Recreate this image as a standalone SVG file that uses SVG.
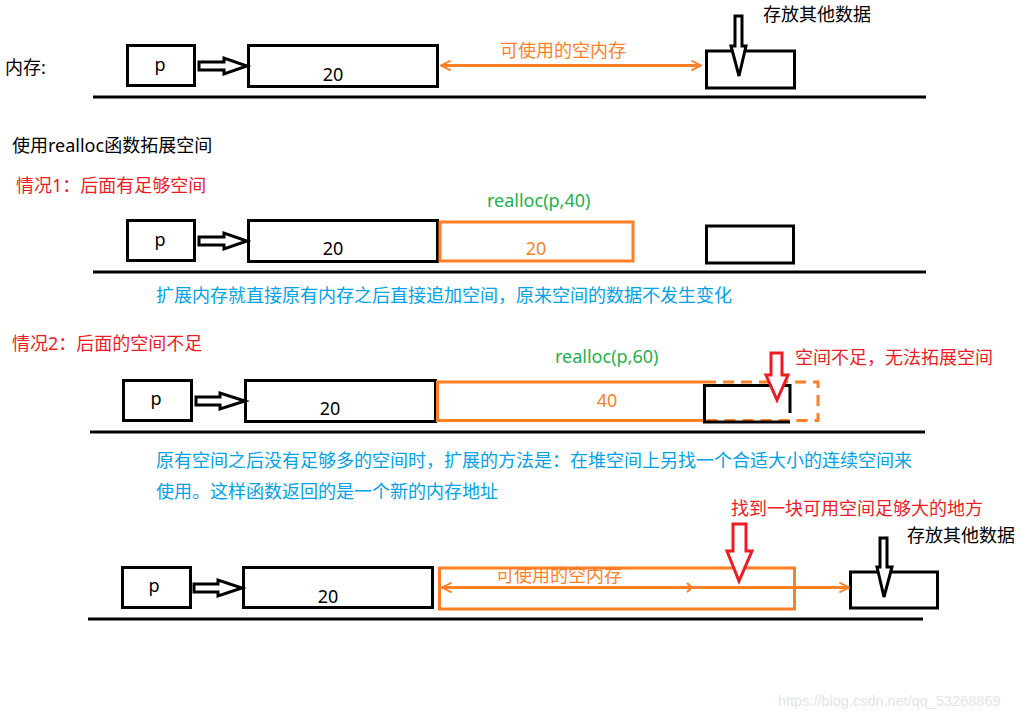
<svg xmlns="http://www.w3.org/2000/svg" width="1030" height="719" viewBox="0 0 1030 719">
<style>
text{font-family:"Noto Sans","Noto Sans CJK SC",sans-serif;font-size:18px}
.k{fill:#000}.o{fill:#ff7f27}.r{fill:#ed1c24}.g{fill:#22b14c}.b{fill:#00a2e8}
.box{fill:none;stroke:#000;stroke-width:3}
.obox{fill:none;stroke:#ff7f27;stroke-width:3}
.harrow{fill:#fff;stroke:#000;stroke-width:3;stroke-linejoin:miter}
.rarrow{fill:#fff;stroke:#ed1c24;stroke-width:3}
.base{stroke:#000;stroke-width:3}
.oline{stroke:#ff7f27;stroke-width:3;fill:none}
.c{text-anchor:middle}
</style>
<defs>
<marker id="oh" viewBox="0 0 10 10" refX="9" refY="5" markerWidth="4" markerHeight="4" orient="auto-start-reverse" markerUnits="strokeWidth">
<path d="M1,1 L9,5 L1,9" fill="none" stroke="#ff7f27" stroke-width="1.6"/>
</marker>
</defs>

<g id="labels">
<text x="5" y="74" class="k">内存:</text>
<text x="12" y="152" class="k">使用realloc函数拓展空间</text>
<text x="16" y="192" class="r">情况1：后面有足够空间</text>
<text x="156" y="302" class="b">扩展内存就直接原有内存之后直接追加空间，原来空间的数据不发生变化</text>
<text x="12" y="350" class="r">情况2：后面的空间不足</text>
<text x="156" y="467" class="b">原有空间之后没有足够多的空间时，扩展的方法是：在堆空间上另找一个合适大小的连续空间来</text>
<text x="156" y="498" class="b">使用。这样函数返回的是一个新的内存地址</text>
<text x="778" y="706" style="font-family:'Liberation Sans',sans-serif;font-size:14.5px;fill:#e4e4e4">https://blog.csdn.net/qq_53268869</text>
</g>

<g id="row1">
<line class="base" x1="93" y1="97" x2="926" y2="97"/>
<g id="p1"><rect class="box" x="127.5" y="45.5" width="67" height="40"/><text x="160" y="71" class="k c">p</text></g>
<g id="m1"><rect class="box" x="248.5" y="45.5" width="189" height="41"/><text x="333" y="81" class="k c">20</text></g>
<g id="other1"><rect class="box" x="706.5" y="51" width="88" height="37"/></g>
<g id="free1"><text x="500" y="57" class="o">可使用的空内存</text></g>
<g id="other1-label"><text x="763" y="21" class="k">存放其他数据</text></g>
</g>

<g id="row2">
<line class="base" x1="93" y1="272" x2="926" y2="272"/>
<g id="p2"><rect class="box" x="127.5" y="220.5" width="67" height="40"/><text x="160" y="246" class="k c">p</text></g>
<g id="m2"><rect class="box" x="248.5" y="220.5" width="189" height="41"/><text x="333" y="255" class="k c">20</text></g>
<g id="ext2"><rect class="obox" x="440" y="222" width="193" height="39"/><text x="536" y="255" class="o c">20</text></g>
<g id="other2"><rect class="box" x="706.5" y="226" width="87" height="37"/></g>
<text x="487" y="207" class="g">realloc(p,40)</text>
</g>

<g id="row3">
<line class="base" x1="90" y1="432" x2="925" y2="432"/>
<g id="p3"><rect class="box" x="123.5" y="380.5" width="68" height="40"/><text x="156" y="405" class="k c">p</text></g>
<g id="m3"><rect class="box" x="245.5" y="380.5" width="190" height="41"/><text x="330" y="415" class="k c">20</text></g>
<g id="ext3">
<path class="oline" d="M705,382 H437.5 V420.5 H705"/>
<path class="oline" d="M705,382 H818 V420.5 H705" stroke-dasharray="11 7"/>
<text x="607" y="407" class="o c">40</text>
</g>
<g id="other3"><path class="box" d="M790,413 V385.5 H704.5 V422 H790"/></g>
<g id="fail3">
<polygon class="rarrow" points="771,353 782,353 782,375 788,375 777,400 766,375 771,375"/>
<text x="795" y="364" class="r">空间不足，无法拓展空间</text>
</g>
<text x="555" y="363" class="g">realloc(p,60)</text>
</g>

<g id="row4">
<line class="base" x1="88" y1="619" x2="923" y2="619"/>
<g id="p4"><rect class="box" x="122.5" y="567.5" width="68" height="40"/><text x="154" y="592" class="k c">p</text></g>
<g id="m4"><rect class="box" x="243.5" y="567.5" width="189" height="40"/><text x="328" y="603" class="k c">20</text></g>
<g id="newblock4"><rect class="obox" x="439.5" y="568" width="355" height="41"/></g>
<g id="other4"><rect class="box" x="850.5" y="572" width="87" height="36"/></g>
<g id="found4">
<text x="731" y="515" class="r">找到一块可用空间足够大的地方</text>
<polygon class="rarrow" points="733,524 746,524 746,551 752,551 739,581 727,551 733,551"/>
</g>
<g id="other4-label"><text x="907" y="542" class="k">存放其他数据</text></g>
<text x="496" y="582" class="o">可使用的空内存</text>
</g>

<g id="connectors">
<polygon class="harrow" points="199,62 224,62 224,58 247,66 224,74 224,70 199,70"/>
<polygon class="harrow" points="199,237 224,237 224,233 247,241 224,249 224,245 199,245"/>
<polygon class="harrow" points="196,397 220,397 220,393 245,401 220,409 220,405 196,405"/>
<polygon class="harrow" points="194,584 218,584 218,580 242,588 218,596 218,592 194,592"/>
<polygon class="harrow" points="735,16 742,16 742,46 746,46 739,76 731,46 735,46"/>
<polygon class="harrow" points="880,538 887,538 887,567 892,567 884,597 877,567 880,567"/>
<line class="oline" x1="441" y1="65.5" x2="701" y2="65.5" marker-start="url(#oh)" marker-end="url(#oh)"/>
<line class="oline" x1="442" y1="587.5" x2="849" y2="587.5" marker-start="url(#oh)" marker-end="url(#oh)"/>
<path d="M687,583 L692,587.5 L687,592" fill="none" stroke="#ff7f27" stroke-width="2"/>
</g>
</svg>
